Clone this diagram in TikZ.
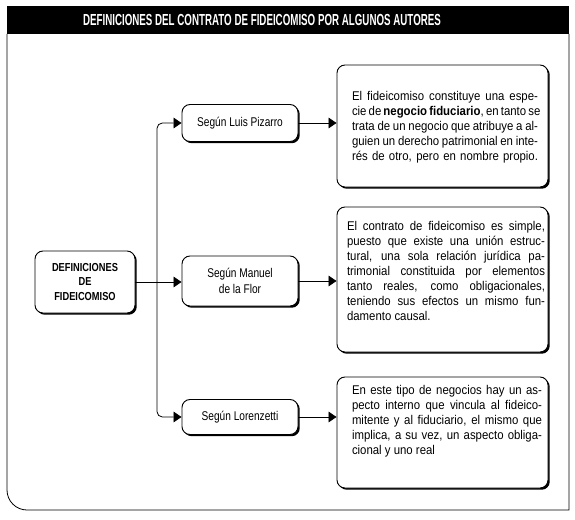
\documentclass[tikz,border=0pt]{standalone}
\usepackage{fontspec}
\setmainfont{Liberation Sans}[FakeStretch=0.8]
\newfontfamily\fuentetitulo{Liberation Sans}[FakeStretch=0.61]
\newfontfamily\fuentecaja{Liberation Sans}[FakeStretch=0.9]
\usetikzlibrary{arrows.meta,shadows}

% linea justificada de ancho fijo
\newcommand{\lj}[2]{\makebox[#1][s]{#2}}

\begin{document}
\begin{tikzpicture}[x=0.75pt,y=0.75pt,
    caja/.style={draw, line width=0.7pt, rounded corners=6pt, fill=white,
      drop shadow={shadow xshift=1.3pt, shadow yshift=-1.3pt, fill=black, opacity=1}},
    texto/.style={inner sep=0pt, align=left, font=\fuentecaja\fontsize{9.5}{11.25}\selectfont},
    flecha/.style={line width=0.6pt, -{Triangle[length=6pt,width=8pt]}}]

    % Limites de la figura
    \useasboundingbox (0,0) rectangle (575,519);

    % Marco exterior con la barra del titulo
    \draw[line width=0.6pt] (569,485) -- (569,9) -- (27,9)
      arc[start angle=270, end angle=180, radius=20] -- (7,485);
    \fill (7,485) rectangle (569,513);
    \node[text=white, font=\fuentetitulo\fontsize{12}{14}\selectfont\bfseries] (titulo) at (262,499)
      {DEFINICIONES DEL CONTRATO DE FIDEICOMISO POR ALGUNOS AUTORES};

    % Nodo de la izquierda
    \node[caja, minimum width=75pt, minimum height=46.5pt, align=center,
      font=\fontsize{8.7}{11}\selectfont\bfseries] (defin) at (85,237)
      {DEFINICIONES\\DE\\FIDEICOMISO};

    % Autores
    \node[caja, minimum width=87pt, minimum height=27.75pt, font=\fontsize{9.5}{11.5}\selectfont] (pizarro) at (240,396) {Según Luis Pizarro};
    \node[caja, minimum width=87pt, minimum height=37.5pt, align=center, font=\fontsize{9.5}{11.5}\selectfont] (flor) at (240,238) {Según Manuel\\de la Flor};
    \node[caja, minimum width=87pt, minimum height=26.25pt, font=\fontsize{9.5}{11.5}\selectfont] (lorenzetti) at (240,102) {Según Lorenzetti};

    % Cajas de las definiciones
    \node[caja, minimum width=158.25pt, minimum height=91.5pt] (caja1) at (442.5,393) {};
    \node[caja, minimum width=158.25pt, minimum height=108.75pt] (caja2) at (442.5,239.5) {};
    \node[caja, minimum width=158.25pt, minimum height=83.25pt] (caja3) at (442.5,86.5) {};

    \node[texto] (texto1) at (445,391.5) {%
      \lj{139.5pt}{El fideicomiso constituye una espe-}\\
      \lj{139.5pt}{cie de \textbf{negocio fiduciario}, en tanto se}\\
      \lj{139.5pt}{trata de un negocio que atribuye a al-}\\
      \lj{139.5pt}{guien un derecho patrimonial en inte-}\\
      \lj{139.5pt}{rés de otro, pero en nombre propio.}};
    \node[texto] (texto2) at (446,248) {%
      \lj{148.5pt}{El contrato de fideicomiso es simple,}\\
      \lj{148.5pt}{puesto que existe una unión estruc-}\\
      \lj{148.5pt}{tural, una sola relación jurídica pa-}\\
      \lj{148.5pt}{trimonial constituida por elementos}\\
      \lj{148.5pt}{tanto reales, como obligacionales,}\\
      \lj{148.5pt}{teniendo sus efectos un mismo fun-}\\
      \makebox[148.5pt][l]{damento causal.}};
    \node[texto] (texto3) at (447,97.5) {%
      \lj{142.5pt}{En este tipo de negocios hay un as-}\\
      \lj{142.5pt}{pecto interno que vincula al fideico-}\\
      \lj{142.5pt}{mitente y al fiduciario, el mismo que}\\
      \lj{142.5pt}{implica, a su vez, un aspecto obliga-}\\
      \makebox[142.5pt][l]{cional y uno real}};

    % Conectores
    \coordinate (rama) at (157,238);
    \draw[flecha] (defin.east) -- (defin.east -| flor.west);
    \draw[flecha, rounded corners=4pt] (rama) |- (pizarro.west);
    \draw[flecha, rounded corners=4pt] (rama) |- (lorenzetti.west);
    \draw[flecha] (pizarro.east) -- (pizarro.east -| caja1.west);
    \draw[flecha] (flor.east) -- (flor.east -| caja2.west);
    \draw[flecha] (lorenzetti.east) -- (lorenzetti.east -| caja3.west);

\end{tikzpicture}
\end{document}
